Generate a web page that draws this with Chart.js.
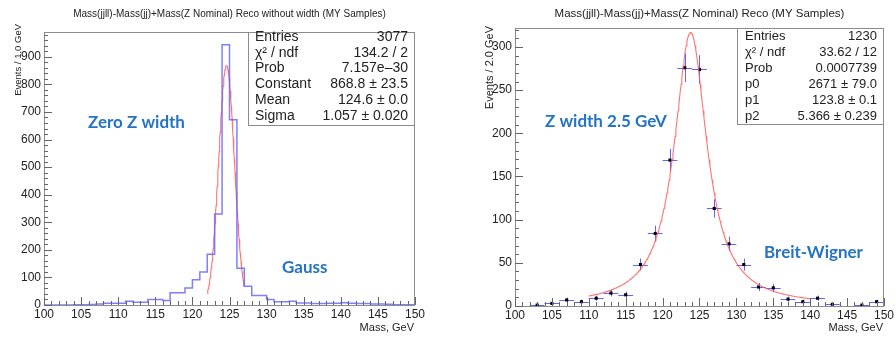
<!DOCTYPE html>
<html>
<head>
<meta charset="utf-8">
<script src="https://cdn.jsdelivr.net/npm/chart.js@4.4.1/dist/chart.umd.min.js"></script>
<style>
  html, body { margin: 0; padding: 0; background: #fff; }
  #wrap { position: relative; width: 896px; height: 338px; }
  canvas { position: absolute; top: 0; }
  #gausChart { left: 0; }
  #bwChart { left: 448px; }
</style>
</head>
<body>
<div id="wrap">
  <canvas id="gausChart" width="448" height="338"></canvas>
  <canvas id="bwChart" width="448" height="338"></canvas>
</div>
<script>
// ---- left: mass without Z width, 1 GeV bins from 100 to 150 ----
const zeroWidthBinStart = 100;
const zeroWidthBinWidth = 1;
const zeroWidthCounts = [
  0, 0, 0, 0, 1, 1, 2, 4, 6, 6,
  6, 14, 10, 10, 20, 20, 16, 44, 44, 62,
  92, 120, 184, 330, 944, 672, 133, 68, 34, 34,
  20, 12, 12, 14, 7, 7, 5, 5, 6, 6,
  8, 6, 5, 5, 4, 4, 3, 1, 1, 1
];
const zeroWidthYTicks = [0, 100, 200, 300, 400, 500, 600, 700, 800, 900];
// Gaussian fit result
const gausConstant = 868.8;
const gausMean = 124.6;
const gausSigma = 1.057;
const gausRange = [122, 127];
const zeroWidthStats = [
  ['Entries', '3077'],
  ['\u03c7\u00b2 / ndf', '134.2 / 2'],
  ['Prob', '7.157e\u201330'],
  ['Constant', '868.8 \u00b1 23.5'],
  ['Mean', '124.6 \u00b1 0.0'],
  ['Sigma', '1.057 \u00b1 0.020']
];

// ---- right: mass with 2.5 GeV Z width, 2 GeV bins ----
const zWidthCenters = [101, 103, 105, 107, 109, 111, 113, 115, 117, 119, 121, 123, 125,
  127, 129, 131, 133, 135, 137, 139, 141, 143, 145, 147, 149];
const zWidthCounts = [null, 1, 3, 7, 5, 9, 15, 13, 48, 84, 169, 276, 274,
  113, 72, 48, 22, 21, 8, 5, 9, 2, null, 1, 5];
const zWidthYTicks = [0, 50, 100, 150, 200, 250, 300];
// Breit-Wigner fit result
const bwP0 = 2671;
const bwP1 = 123.8;
const bwP2 = 5.366;
const bwRange = [110, 140];
const zWidthStats = [
  ['Entries', '1230'],
  ['\u03c7\u00b2 / ndf', '33.62 / 12'],
  ['Prob', '0.0007739'],
  ['p0', '2671 \u00b1 79.0'],
  ['p1', '123.8 \u00b1 0.1'],
  ['p2', '5.366 \u00b1 0.239']
];

const xTicks = [100, 105, 110, 115, 120, 125, 130, 135, 140, 145, 150];

const SANS = '"Liberation Sans", Arial, sans-serif';
const NOTE_FONT = 'Lato, "Open Sans", sans-serif';
const NOTE_COLOR = '#2574c4';

// histogram outline: each bin's low edge plus the closing upper edge
function histOutline(start, width, counts) {
  const pts = counts.map((c, i) => ({ x: start + i * width, y: c }));
  pts.push({ x: start + counts.length * width, y: counts[counts.length - 1] });
  return pts;
}

function gaus(x) {
  return gausConstant * Math.exp(-0.5 * Math.pow((x - gausMean) / gausSigma, 2));
}

// TMath::BreitWigner scaled by p0
function breitWigner(x) {
  return bwP0 * (bwP2 / (2 * Math.PI)) / (Math.pow(x - bwP1, 2) + bwP2 * bwP2 / 4);
}

function curve(fn, range, step) {
  const pts = [];
  for (let x = range[0]; x <= range[1] + 1e-9; x += step) pts.push({ x: x, y: fn(x) });
  return pts;
}

// ROOT-like frame, inward ticks, titles, stats box and notes
const rootPad = {
  id: 'rootPad',
  afterDatasetsDraw(chart, args, o) {
    const { ctx, chartArea: a, scales: { x, y } } = chart;
    ctx.save();
    ctx.strokeStyle = '#8c8c8c';
    ctx.lineWidth = 1;
    ctx.strokeRect(a.left + 0.5, a.top + 0.5, a.right - a.left - 1, a.bottom - a.top);

    ctx.strokeStyle = '#666';
    ctx.beginPath();
    for (let v = x.min; v <= x.max; v += 1) {
      const px = Math.round(x.getPixelForValue(v)) + 0.5;
      const len = v % 5 === 0 ? 8 : 4;
      ctx.moveTo(px, a.bottom);
      ctx.lineTo(px, a.bottom - len);
    }
    for (let v = 0; v <= y.max; v += o.yMinor) {
      const py = Math.round(y.getPixelForValue(v)) + 0.5;
      const len = v % o.yMajor === 0 ? 8 : 4;
      ctx.moveTo(a.left, py);
      ctx.lineTo(a.left + len, py);
    }
    ctx.stroke();

    // title and axis titles
    ctx.fillStyle = '#222';
    ctx.textBaseline = 'middle';
    ctx.font = o.titleSize + 'px ' + SANS;
    ctx.textAlign = 'center';
    ctx.fillText(o.title, (a.left + a.right) / 2, 14);

    ctx.font = '11px ' + SANS;
    ctx.textAlign = 'right';
    ctx.fillText('Mass, GeV', a.right - 1, 328);

    ctx.save();
    ctx.translate(o.yTitleX, o.yTitleTop);
    ctx.rotate(-Math.PI / 2);
    ctx.font = o.yTitleSize + 'px ' + SANS;
    ctx.textAlign = 'right';
    ctx.fillText(o.yTitle, 0, 0);
    ctx.restore();

    // stats box
    const b = o.box;
    ctx.fillStyle = '#b5b5b5';
    ctx.fillRect(b.left + 2, b.top + 2, a.right - b.left - 2, b.bottom - b.top);
    ctx.fillStyle = '#fff';
    ctx.fillRect(b.left, a.top, a.right - b.left, b.bottom - a.top);
    ctx.strokeStyle = '#8c8c8c';
    ctx.strokeRect(b.left + 0.5, a.top + 0.5, a.right - b.left - 1, b.bottom - a.top);
    ctx.fillStyle = '#222';
    ctx.font = o.statSize + 'px ' + SANS;
    o.stats.forEach((row, i) => {
      const ty = b.rowTop + i * b.rowStep;
      ctx.textAlign = 'left';
      ctx.fillText(row[0], b.left + b.padL, ty);
      ctx.textAlign = 'right';
      ctx.fillText(row[1], a.right - b.padR, ty);
    });

    // notes
    ctx.fillStyle = NOTE_COLOR;
    ctx.font = 'bold 17px ' + NOTE_FONT;
    ctx.textAlign = 'left';
    o.notes.forEach(n => ctx.fillText(n.text, n.x, n.y));
    ctx.restore();
  }
};

// Poisson error bars for the 2 GeV points
const errorBars = {
  id: 'errorBars',
  beforeDatasetsDraw(chart) {
    const { ctx, scales: { x, y } } = chart;
    ctx.save();
    ctx.strokeStyle = 'rgba(70,70,255,0.85)';
    ctx.lineWidth = 1;
    ctx.beginPath();
    zWidthCenters.forEach((c, i) => {
      const n = zWidthCounts[i];
      if (n === null) return;
      const px = x.getPixelForValue(c);
      const py = Math.round(y.getPixelForValue(n)) + 0.5;
      ctx.moveTo(x.getPixelForValue(c - 1), py);
      ctx.lineTo(x.getPixelForValue(c + 1), py);
      const e = Math.sqrt(n);
      ctx.moveTo(Math.round(px) + 0.5, y.getPixelForValue(n + e));
      ctx.lineTo(Math.round(px) + 0.5, y.getPixelForValue(Math.max(0, n - e)));
    });
    ctx.stroke();
    ctx.restore();
  }
};

function xScale(height) {
  return {
    type: 'linear', min: 100, max: 150,
    afterFit: s => { s.height = height; },
    afterBuildTicks: s => { s.ticks = xTicks.map(v => ({ value: v })); },
    grid: { display: false, drawTicks: false },
    border: { display: false },
    ticks: { color: '#222', padding: 2, maxRotation: 0, autoSkip: false, font: { family: SANS, size: 12 } }
  };
}

function yScale(max, labels, width) {
  return {
    min: 0, max: max,
    afterFit: s => { s.width = width; },
    afterBuildTicks: s => { s.ticks = labels.map(v => ({ value: v })); },
    grid: { display: false, drawTicks: false },
    border: { display: false },
    ticks: { color: '#222', padding: 3, autoSkip: false, font: { family: SANS, size: 12 } }
  };
}

new Chart(document.getElementById('gausChart'), {
  type: 'line',
  data: {
    datasets: [
      {
        data: histOutline(zeroWidthBinStart, zeroWidthBinWidth, zeroWidthCounts),
        stepped: 'before',
        borderColor: 'rgba(95,95,255,0.8)',
        borderWidth: 1.5,
        pointRadius: 0,
        fill: false
      },
      {
        data: curve(gaus, gausRange, 0.05),
        borderColor: 'rgba(255,90,90,0.85)',
        borderWidth: 1.1,
        pointRadius: 0,
        fill: false
      }
    ]
  },
  options: {
    responsive: false,
    animation: false,
    layout: { padding: { top: 32, right: 33, left: 0, bottom: 0 } },
    scales: { x: xScale(33), y: yScale(990, zeroWidthYTicks, 44) },
    plugins: {
      legend: { display: false },
      tooltip: { enabled: false },
      rootPad: {
        title: 'Mass(jjll)-Mass(jj)+Mass(Z Nominal) Reco without width (MY Samples)',
        titleSize: 10,
        yTitle: 'Events / 1.0 GeV', yTitleX: 18, yTitleTop: 24, yTitleSize: 9.5,
        yMinor: 20, yMajor: 100,
        stats: zeroWidthStats, statSize: 14,
        box: { left: 248, bottom: 125, rowTop: 37, rowStep: 15.8, padL: 7, padR: 7 },
        notes: [
          { text: 'Zero Z width', x: 88, y: 123 },
          { text: 'Gauss', x: 282, y: 268 }
        ]
      }
    }
  },
  plugins: [rootPad]
});

new Chart(document.getElementById('bwChart'), {
  type: 'line',
  data: {
    datasets: [
      {
        data: curve(breitWigner, bwRange, 0.1),
        borderColor: 'rgba(255,90,90,0.85)',
        borderWidth: 1.1,
        pointRadius: 0,
        fill: false
      },
      {
        data: zWidthCenters.map((c, i) => ({ x: c, y: zWidthCounts[i] })),
        showLine: false,
        pointStyle: 'rect',
        pointRadius: 2.2,
        pointBackgroundColor: '#000',
        pointBorderWidth: 0
      }
    ]
  },
  options: {
    responsive: false,
    animation: false,
    layout: { padding: { top: 28, right: 11, left: 0, bottom: 0 } },
    scales: { x: xScale(32), y: yScale(322, zWidthYTicks, 67) },
    plugins: {
      legend: { display: false },
      tooltip: { enabled: false },
      rootPad: {
        title: 'Mass(jjll)-Mass(jj)+Mass(Z Nominal) Reco (MY Samples)',
        titleSize: 11.5,
        yTitle: 'Events / 2.0 GeV', yTitleX: 42, yTitleTop: 26, yTitleSize: 11,
        yMinor: 10, yMajor: 50,
        stats: zWidthStats, statSize: 13,
        box: { left: 289, bottom: 124, rowTop: 36, rowStep: 16, padL: 8, padR: 7 },
        notes: [
          { text: 'Z width 2.5 GeV', x: 97, y: 122 },
          { text: 'Breit-Wigner', x: 316, y: 253 }
        ]
      }
    }
  },
  plugins: [errorBars, rootPad]
});
</script>
</body>
</html>
